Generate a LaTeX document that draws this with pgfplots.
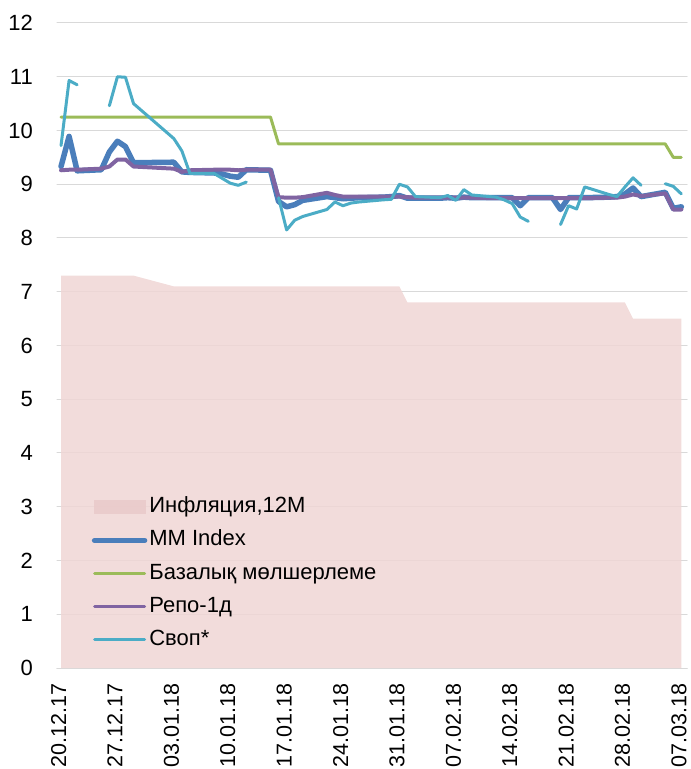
\documentclass[border=0pt]{standalone}
\usepackage{fontspec}
\setmainfont{Liberation Sans}
\usepackage{pgfplots}
\pgfplotsset{compat=1.18}
\usepackage{pgfplotstable}
\definecolor{mmblue}{HTML}{4A7EBB}
\definecolor{basegreen}{HTML}{9BBB59}
\definecolor{repopurple}{HTML}{8064A2}
\definecolor{swapcyan}{HTML}{4BACC6}
\definecolor{inflpink}{RGB}{240,214,213}
\definecolor{legpink}{RGB}{234,202,202}
\definecolor{gridgray}{HTML}{D9D9D9}

\pgfplotstableread{
d v
0 7.3
9 7.3
14 7.1
42 7.1
43 6.8
70 6.8
71 6.5
77 6.5
}\infl

\pgfplotstableread{
d v
0 9.33
1 9.89
2 9.25
5 9.27
6 9.60
7 9.80
8 9.70
9 9.40
14 9.41
15 9.23
16 9.22
19 9.21
20 9.19
21 9.15
22 9.13
23 9.27
26 9.26
27 8.68
28 8.58
29 8.62
30 8.70
33 8.77
34 8.75
35 8.73
36 8.74
37 8.75
40 8.76
41 8.77
42 8.79
43 8.74
44 8.74
47 8.74
48 8.75
49 8.74
50 8.76
51 8.75
54 8.75
55 8.75
56 8.75
57 8.60
58 8.75
61 8.75
62 8.53
63 8.75
64 8.75
65 8.75
68 8.76
69 8.77
70 8.82
71 8.93
72 8.77
75 8.85
76 8.55
77 8.58
}\mm

\pgfplotstableread{
d v
0 10.25
26 10.25
27 9.75
75 9.75
76 9.5
77 9.5
}\base

\pgfplotstableread{
d v
0 9.26
1 9.27
2 9.27
5 9.29
6 9.33
7 9.46
8 9.46
9 9.33
14 9.29
15 9.23
16 9.26
19 9.27
20 9.27
21 9.27
22 9.26
23 9.27
26 9.27
27 8.76
28 8.75
29 8.75
30 8.76
33 8.84
34 8.80
35 8.77
36 8.77
37 8.77
40 8.77
41 8.77
42 8.77
43 8.76
44 8.75
47 8.75
48 8.75
49 8.75
50 8.75
51 8.75
54 8.74
55 8.74
56 8.74
57 8.74
58 8.74
61 8.74
62 8.74
63 8.74
64 8.74
65 8.74
68 8.75
69 8.75
70 8.77
71 8.81
72 8.78
75 8.83
76 8.53
77 8.53
}\repo

\pgfplotstableread{
d v
0 9.72
1 10.93
2 10.85
5 nan
6 10.46
7 11.00
8 10.99
9 10.50
14 9.85
15 9.62
16 9.20
19 9.20
20 9.11
21 9.02
22 8.98
23 9.04
26 nan
27 8.75
28 8.15
29 8.33
30 8.40
33 8.53
34 8.67
35 8.60
36 8.65
37 8.67
40 8.71
41 8.72
42 9.00
43 8.95
44 8.77
47 8.75
48 8.79
49 8.70
50 8.90
51 8.80
54 8.76
55 8.71
56 8.64
57 8.39
58 8.31
61 nan
62 8.25
63 8.60
64 8.54
65 8.95
68 8.81
69 8.77
70 8.95
71 9.12
72 8.98
73 nan
75 9.01
76 8.96
77 8.82
}\swap

\begin{document}
\begin{tikzpicture}
\begin{axis}[
  width=630pt, height=645pt, scale only axis,
  xmin=-0.5, xmax=77.7, ymin=0, ymax=12,
  axis x line*=bottom, axis y line*=left,
  x axis line style={draw=gridgray, line width=1pt, -},
  y axis line style={draw=none},
  xtick={0,7,14,21,28,35,42,49,56,63,70,77},
  xticklabels={20.12.17,27.12.17,03.01.18,10.01.18,17.01.18,24.01.18,31.01.18,07.02.18,14.02.18,21.02.18,28.02.18,07.03.18},
  ytick={0,1,...,12},
  major tick length=0pt,
  tick style={draw=none},
  ymajorgrids, major grid style={draw=gridgray, line width=1pt},
  tick label style={font=\fontsize{22}{25}\selectfont, text=black},
  /pgf/number format/assume math mode=true,
  xticklabel style={font=\fontsize{21.5}{25}\selectfont, rotate=90, anchor=east, inner sep=0pt, text depth=5pt},
  yticklabel style={anchor=east, inner sep=0pt},
  xticklabel shift=15.5pt,
  yticklabel shift=24pt,
  unbounded coords=jump,
  line join=round, line cap=round,
  legend cell align=left,
  legend style={at={(0.055,0.2656)}, anchor=north west, draw=none, fill=none,
    font=\fontsize{22}{25}\selectfont, row sep=12.1pt, column sep=2pt, inner sep=0pt,
    nodes={inner sep=0pt, text height=16pt, text depth=5pt}},
]
\addplot[fill=inflpink, fill opacity=0.85, draw=none,
  legend image code/.code={\fill[legpink] (0pt,-7pt) rectangle (52pt,7pt);}] table[x=d,y=v] {\infl} \closedcycle;
\addlegendentry{Инфляция,12М}
\addplot[mmblue, line width=5.5pt,
  legend image code/.code={\draw[mmblue, line width=5.5pt, line cap=round] (1pt,0pt) -- (51pt,0pt);}] table[x=d,y=v] {\mm};
\addlegendentry{MM Index}
\addplot[basegreen, line width=3pt,
  legend image code/.code={\draw[basegreen, line width=3pt, line cap=round] (1pt,0pt) -- (51pt,0pt);}] table[x=d,y=v] {\base};
\addlegendentry{Базалық мөлшерлеме}
\addplot[repopurple, line width=4pt,
  legend image code/.code={\draw[repopurple, line width=3pt, line cap=round] (1pt,0pt) -- (51pt,0pt);}] table[x=d,y=v] {\repo};
\addlegendentry{Репо-1д}
\addplot[swapcyan, line width=3pt,
  legend image code/.code={\draw[swapcyan, line width=3pt, line cap=round] (1pt,0pt) -- (51pt,0pt);}] table[x=d,y=v] {\swap};
\addlegendentry{Своп*}
\end{axis}
\pgfresetboundingbox
\path (current axis.south west) ++(-57pt,-101pt) rectangle ++(691pt,769pt);
\end{tikzpicture}
\end{document}
